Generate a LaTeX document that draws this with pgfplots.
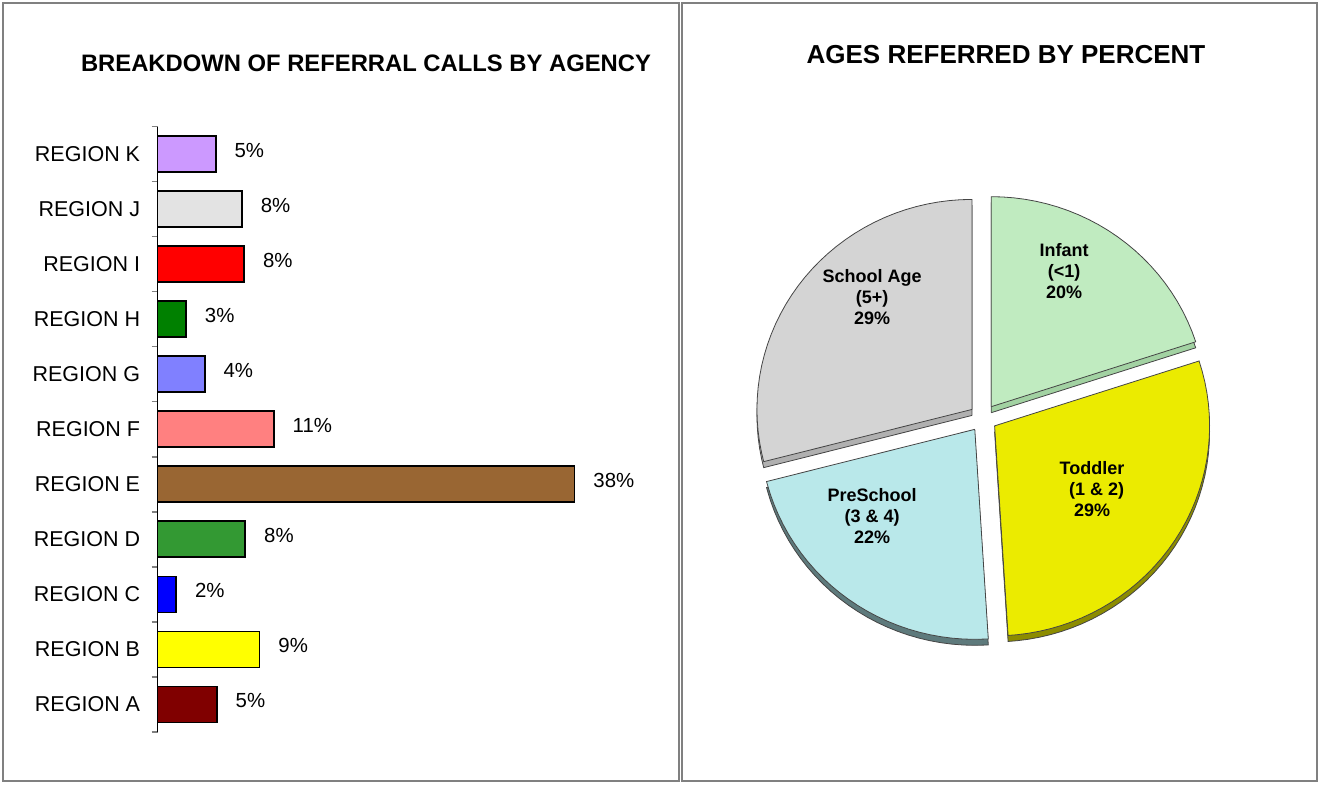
\documentclass[border=0pt]{standalone}
\usepackage{fontspec}
\setmainfont{Liberation Sans}
\usepackage{pgfplots}
\pgfplotsset{compat=1.18}
\usepackage{pgfplotstable}
\usepgfplotslibrary{polar}

\definecolor{cA}{HTML}{800000}
\definecolor{cB}{HTML}{FFFF00}
\definecolor{cC}{HTML}{0000FF}
\definecolor{cD}{HTML}{339933}
\definecolor{cE}{HTML}{996633}
\definecolor{cF}{HTML}{FF8080}
\definecolor{cG}{HTML}{8080FF}
\definecolor{cH}{HTML}{008000}
\definecolor{cI}{HTML}{FF0000}
\definecolor{cJ}{HTML}{E3E3E3}
\definecolor{cK}{HTML}{CC99FF}
\definecolor{infTop}{HTML}{C0EBC0}
\definecolor{infSide}{HTML}{A2D2A2}
\definecolor{todTop}{HTML}{EBEB00}
\definecolor{todSide}{HTML}{8C8C00}
\definecolor{preTop}{HTML}{B9E8EA}
\definecolor{preSide}{HTML}{5E7A7C}
\definecolor{schTop}{HTML}{D4D4D4}
\definecolor{schSide}{HTML}{B0B0B0}
\definecolor{pieEdge}{HTML}{454545}
\definecolor{frame}{HTML}{808080}

% Pie shares: Infant 20, Toddler 29, PreSchool 22, School Age 29 (percent)
% Slices as (angle in degrees, radius), clockwise from 12 o'clock
\pgfplotstableread{
a r
0 0
90 1
87 1
84 1
81 1
78 1
75 1
72 1
69 1
66 1
63 1
60 1
57 1
54 1
51 1
48 1
45 1
42 1
39 1
36 1
33 1
30 1
27 1
24 1
21 1
18 1
0 0
}\infanttab

\pgfplotstableread{
a r
0 0
18 1
15 1
12 1
9 1
6 1
3 1
0 1
-3 1
-6 1
-9 1
-12 1
-15 1
-18 1
-21 1
-24 1
-27 1
-30 1
-33 1
-36 1
-39 1
-42 1
-45 1
-48 1
-51 1
-54 1
-57 1
-60 1
-63 1
-66 1
-69 1
-72 1
-75 1
-78 1
-81 1
-84 1
-86.4 1
0 0
}\toddlertab

\pgfplotstableread{
a r
0 0
-86.4 1
-87 1
-90 1
-93 1
-96 1
-99 1
-102 1
-105 1
-108 1
-111 1
-114 1
-117 1
-120 1
-123 1
-126 1
-129 1
-132 1
-135 1
-138 1
-141 1
-144 1
-147 1
-150 1
-153 1
-156 1
-159 1
-162 1
-165 1
-165.6 1
0 0
}\preschooltab

\pgfplotstableread{
a r
0 0
-165.6 1
-168 1
-171 1
-174 1
-177 1
-180 1
-183 1
-186 1
-189 1
-192 1
-195 1
-198 1
-201 1
-204 1
-207 1
-210 1
-213 1
-216 1
-219 1
-222 1
-225 1
-228 1
-231 1
-234 1
-237 1
-240 1
-243 1
-246 1
-249 1
-252 1
-255 1
-258 1
-261 1
-264 1
-267 1
-270 1
0 0
}\schooltab

\begin{document}
\begin{tikzpicture}
\useasboundingbox (0pt,0pt) rectangle (660pt,392pt);
\draw[frame, line width=0.7pt] (1.5pt,1.5pt) rectangle (339.5pt,390.5pt);
\draw[frame, line width=0.7pt] (341pt,1.5pt) rectangle (658.5pt,390.5pt);

\node[font=\bfseries\fontsize{11.9}{14}\selectfont] at (183pt,360.4pt)
  {BREAKDOWN OF REFERRAL CALLS BY AGENCY};
\node[font=\bfseries\fontsize{13}{15}\selectfont] at (503pt,364.5pt)
  {AGES REFERRED BY PERCENT};

% ---------------- bar chart ----------------
\begin{axis}[
  at={(78.75pt,26pt)}, anchor=south west,
  x=5.487pt, y=27.52pt,
  xmin=0, xmax=45, ymin=-0.5, ymax=10.5,
  xbar, bar width=18pt, bar shift=0pt,
  axis x line=none, axis y line*=left,
  xtick=\empty,
  ytick={0,1,2,3,4,5,6,7,8,9,10},
  yticklabels={REGION A,REGION B,REGION C,REGION D,REGION E,REGION F,REGION G,REGION H,REGION I,REGION J,REGION K},
  major tick length=0pt,
  minor ytick={-0.5,0.5,1.5,2.5,3.5,4.5,5.5,6.5,7.5,8.5,9.5,10.5},
  minor tick length=3pt, tick align=outside,
  minor tick style={frame, line width=0.7pt},
  y axis line style={black, line width=0.7pt},
  yticklabel style={font=\fontsize{10.75}{12}\selectfont, inner sep=0pt, xshift=-8.5pt},
  /pgf/number format/assume math mode=true,
  point meta=x,
  nodes near coords={\pgfmathprintnumber[fixed,precision=0,assume math mode=true]{\pgfplotspointmeta}\%},
  nodes near coords style={font=\fontsize{10.2}{12}\selectfont, anchor=west, inner sep=0pt, xshift=9pt, yshift=2pt},
  every axis plot/.append style={draw=black, line width=0.9pt},
  clip=false,
]
\addplot[fill=cA] coordinates {(5.4,0)};
\addplot[fill=cB] coordinates {(9.3,1)};
\addplot[fill=cC] coordinates {(1.7,2)};
\addplot[fill=cD] coordinates {(8.0,3)};
\addplot[fill=cE] coordinates {(38,4)};
\addplot[fill=cF] coordinates {(10.6,5)};
\addplot[fill=cG] coordinates {(4.3,6)};
\addplot[fill=cH] coordinates {(2.6,7)};
\addplot[fill=cI] coordinates {(7.9,8)};
\addplot[fill=cJ] coordinates {(7.7,9)};
\addplot[fill=cK] coordinates {(5.3,10)};
\end{axis}

% ---------------- pie chart ----------------
\begin{axis}[
  at={(351.75pt,46.5pt)}, anchor=south west,
  x=107.5pt, y=105pt,
  xmin=-1.3, xmax=1.3, ymin=-1.3, ymax=1.3,
  hide axis, clip=false,
]
% side (depth) faces
\addplot[data cs=polar, fill=infSide, draw=pieEdge, line width=0.4pt, xshift=4.11pt, yshift=2.66pt] table[x=a,y=r] {\infanttab};
\addplot[data cs=polar, fill=todSide, draw=pieEdge, line width=0.4pt, xshift=5.79pt, yshift=-6.93pt] table[x=a,y=r] {\toddlertab};
\addplot[data cs=polar, fill=preSide, draw=pieEdge, line width=0.4pt, xshift=-4.11pt, yshift=-8.66pt] table[x=a,y=r] {\preschooltab};
\addplot[data cs=polar, fill=schSide, draw=pieEdge, line width=0.4pt, xshift=-5.53pt, yshift=1.29pt] table[x=a,y=r] {\schooltab};
% top faces
\addplot[data cs=polar, fill=infTop, draw=pieEdge, line width=0.4pt, xshift=4.11pt, yshift=5.66pt] table[x=a,y=r] {\infanttab};
\addplot[data cs=polar, fill=todTop, draw=pieEdge, line width=0.4pt, xshift=5.79pt, yshift=-3.93pt] table[x=a,y=r] {\toddlertab};
\addplot[data cs=polar, fill=preTop, draw=pieEdge, line width=0.4pt, xshift=-4.11pt, yshift=-5.66pt] table[x=a,y=r] {\preschooltab};
\addplot[data cs=polar, fill=schTop, draw=pieEdge, line width=0.4pt, xshift=-5.53pt, yshift=4.29pt] table[x=a,y=r] {\schooltab};

\node[align=center, font=\bfseries\fontsize{9}{10.5}\selectfont] at (axis cs:0.377,0.70) {Infant\\(<1)\\20\%};
\node[align=center, font=\bfseries\fontsize{9}{10.5}\selectfont] at (axis cs:0.507,-0.338) {Toddler\\ \hspace*{0.5em}(1 \& 2)\\29\%};
\node[align=center, font=\bfseries\fontsize{9}{10.5}\selectfont] at (axis cs:-0.516,-0.467) {PreSchool\\(3 \& 4)\\22\%};
\node[align=center, font=\bfseries\fontsize{9}{10.5}\selectfont] at (axis cs:-0.516,0.576) {School Age\\(5+)\\29\%};
\end{axis}
\end{tikzpicture}
\end{document}
